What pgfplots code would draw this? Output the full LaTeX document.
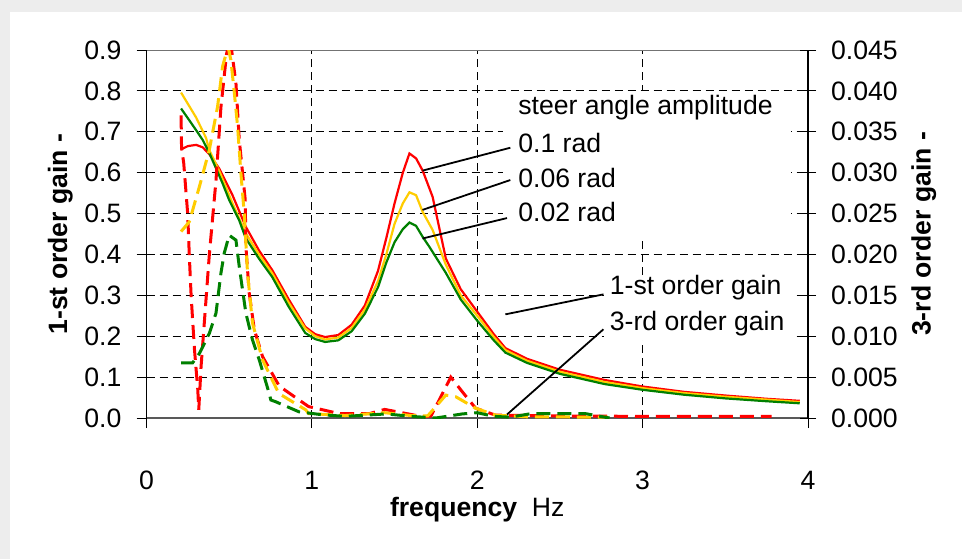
\documentclass[border=0pt]{standalone}
\usepackage{fontspec}
\setmainfont{Liberation Sans}
\usepackage{pgfplots}
\pgfplotsset{compat=1.18}

\definecolor{cRed}{RGB}{255,0,0}
\definecolor{cYel}{RGB}{255,204,0}
\definecolor{cGrn}{RGB}{0,128,0}
\newcommand\cf{\fontsize{13.3}{15}\selectfont}

% first-order gain (left axis)
\pgfplotstableread{
x y
0.209 0.657
0.25 0.665
0.30 0.668
0.34 0.662
0.38 0.645
0.44 0.610
0.52 0.545
0.60 0.468
0.68 0.410
0.76 0.362
0.86 0.290
0.96 0.223
1.02 0.205
1.08 0.198
1.16 0.203
1.24 0.228
1.32 0.275
1.40 0.360
1.45 0.440
1.50 0.525
1.55 0.600
1.59 0.647
1.63 0.635
1.67 0.605
1.73 0.541
1.81 0.390
1.90 0.315
2.00 0.260
2.10 0.205
2.17 0.171
2.30 0.145
2.50 0.118
2.77 0.093
3.00 0.077
3.25 0.064
3.50 0.055
3.75 0.047
3.95 0.042
}\firstRed
\pgfplotstableread{
x y
0.209 0.796
0.30 0.735
0.36 0.685
0.38 0.655
0.44 0.604
0.52 0.525
0.60 0.452
0.68 0.400
0.76 0.354
0.86 0.282
0.96 0.219
1.02 0.200
1.08 0.192
1.16 0.197
1.24 0.220
1.32 0.265
1.40 0.335
1.45 0.400
1.50 0.475
1.55 0.525
1.59 0.552
1.63 0.545
1.67 0.504
1.73 0.460
1.81 0.375
1.90 0.300
2.00 0.250
2.10 0.198
2.17 0.166
2.30 0.140
2.50 0.113
2.77 0.088
3.00 0.073
3.25 0.061
3.50 0.052
3.75 0.045
3.95 0.039
}\firstYel
\pgfplotstableread{
x y
0.209 0.757
0.259 0.728
0.30 0.704
0.34 0.680
0.38 0.648
0.42 0.611
0.46 0.574
0.50 0.533
0.56 0.484
0.60 0.440
0.68 0.390
0.76 0.345
0.86 0.272
0.96 0.208
1.02 0.193
1.08 0.186
1.16 0.190
1.24 0.212
1.32 0.255
1.40 0.320
1.45 0.380
1.50 0.430
1.55 0.462
1.59 0.478
1.63 0.470
1.67 0.443
1.71 0.419
1.81 0.355
1.90 0.290
2.00 0.238
2.10 0.190
2.17 0.160
2.30 0.135
2.50 0.108
2.77 0.083
3.00 0.069
3.25 0.057
3.50 0.048
3.75 0.041
3.95 0.036
}\firstGrn

% third-order gain (right axis)
\pgfplotstableread{
x y
0.209 0.0370
0.212 0.0330
0.225 0.0312
0.249 0.0250
0.259 0.0198
0.270 0.0149
0.290 0.0084
0.310 0.0035
0.316 0.0010
0.330 0.0063
0.380 0.0200
0.420 0.0290
0.450 0.0380
0.484 0.0445
0.505 0.0465
0.541 0.0409
0.561 0.0340
0.597 0.0267
0.601 0.0210
0.621 0.0153
0.652 0.0108
0.702 0.0075
0.803 0.0039
0.923 0.0022
0.980 0.0014
1.163 0.00055
1.35 0.00055
1.44 0.00105
1.57 0.00055
1.67 0.00015
1.72 0.00025
1.77 0.0022
1.84 0.0050
1.91 0.0032
1.99 0.0012
2.11 0.00035
2.50 0.00025
3.00 0.0002
3.78 0.0002
}\thirdRed
\pgfplotstableread{
x y
0.209 0.0228
0.259 0.0240
0.320 0.0283
0.380 0.0328
0.430 0.0381
0.460 0.0430
0.485 0.0448
0.495 0.0452
0.510 0.0438
0.530 0.0400
0.551 0.0356
0.571 0.0299
0.591 0.0250
0.611 0.0177
0.641 0.0116
0.702 0.0071
0.800 0.0030
0.963 0.0010
0.98 0.00055
1.20 0.0003
1.44 0.00065
1.60 0.0003
1.70 0.00025
1.81 0.0028
1.87 0.0026
1.99 0.0012
2.11 0.00035
2.30 0.00015
2.79 0.0001
}\thirdYel
\pgfplotstableread{
x y
0.209 0.00675
0.279 0.00675
0.320 0.0079
0.380 0.01035
0.420 0.0128
0.450 0.0177
0.470 0.02015
0.500 0.02235
0.541 0.02175
0.561 0.0185
0.581 0.01565
0.601 0.0128
0.641 0.00955
0.682 0.0071
0.742 0.0030
0.752 0.0022
0.780 0.0020
0.923 0.00075
1.063 0.0004
1.20 0.0002
1.45 0.0005
1.60 0.0002
1.75 0.0
1.91 0.0005
2.00 0.00065
2.10 0.0002
2.20 0.0001
2.33 0.00055
2.65 0.00055
2.80 0.0
}\thirdGrn

\begin{document}
\begin{tikzpicture}
% page frame with a light grey margin on top and left
\useasboundingbox (-73.25pt,-70.5pt) rectangle (407.75pt,209pt);
\fill[gray!14] (-73.25pt,-70.5pt) rectangle (407.75pt,209pt);
\fill[white] (-68.25pt,-70.5pt) rectangle (407.75pt,203pt);

\pgfplotsset{
  chart/.style={
    at={(0,0)}, anchor=south west,
    scale only axis, width=330.75pt, height=184pt,
    xmin=0, xmax=4,
    /pgf/number format/assume math mode=true,
    tick label style={font=\cf},
    label style={font=\cf},
  },
}

\begin{axis}[chart,
  ymin=0, ymax=0.9,
  axis x line*=bottom, axis y line*=left,
  x axis line style={line width=1.3pt, black!65},
  y axis line style={line width=0.8pt, black},
  xtick={0,1,2,3,4}, ytick={0,0.1,...,0.9},
  tick align=outside, major tick length=5pt,
  tick style={black, line width=0.5pt},
  xticklabel style={yshift=-18pt},
  yticklabel style={/pgf/number format/fixed, /pgf/number format/fixed zerofill,
    /pgf/number format/precision=1, xshift=-4pt},
  grid=major,
  major grid style={black, dash pattern=on 4pt off 2.5pt, line width=0.5pt},
  xlabel={\textbf{frequency}\ \ Hz},
  xlabel style={yshift=3pt},
  ylabel={\textbf{1-st order gain -}},
  ylabel style={yshift=-1pt},
]
\addplot[cRed, line width=1.1pt] table {\firstRed};
\addplot[cYel, line width=1.1pt] table {\firstYel};
\addplot[cGrn, line width=1.1pt] table {\firstGrn};

% top border of the plot area
\draw[black!55, line width=1.3pt] (rel axis cs:0,1) -- (rel axis cs:1,1);

% white text boxes of the annotations
\fill[white] (axis cs:2.155,0.4425) rectangle (axis cs:3.896,0.800);
\fill[white] (axis cs:2.766,0.191) rectangle (axis cs:3.903,0.340);

% annotations
\begin{scope}[every node/.style={font=\cf, anchor=west, inner sep=0pt}]
\node at (axis cs:2.246,0.758) {steer angle amplitude};
\node at (axis cs:2.246,0.672) {0.1 rad};
\node at (axis cs:2.246,0.587) {0.06 rad};
\node at (axis cs:2.246,0.504) {0.02 rad};
\node at (axis cs:2.80,0.318) {1-st order gain};
\node at (axis cs:2.80,0.230) {3-rd order gain};
\end{scope}
\draw[black, line width=0.9pt] (axis cs:1.669,0.605) -- (axis cs:2.20,0.661);
\draw[black, line width=0.9pt] (axis cs:1.669,0.509) -- (axis cs:2.20,0.582);
\draw[black, line width=0.9pt] (axis cs:1.669,0.439) -- (axis cs:2.18,0.489);
\draw[black, line width=0.9pt] (axis cs:2.17,0.2535) -- (axis cs:2.763,0.3024);
\draw[black, line width=0.9pt] (axis cs:2.17,0.005) -- (axis cs:2.763,0.217);
\end{axis}

\begin{axis}[chart,
  ymin=0, ymax=0.045,
  axis x line=none, axis y line*=right,
  y axis line style={line width=0.6pt, black},
  ytick={0,0.005,...,0.045},
  scaled y ticks=false,
  tick align=center, major tick length=8pt,
  tick style={black, line width=0.5pt},
  yticklabel style={/pgf/number format/fixed, /pgf/number format/fixed zerofill,
    /pgf/number format/precision=3, xshift=4pt},
  ylabel={\textbf{3-rd order gain -}},
  ylabel style={yshift=0pt},
]
\addplot[cRed, line width=1.5pt, dash pattern=on 7pt off 3.5pt] table {\thirdRed};
\addplot[cYel, line width=1.5pt, dash pattern=on 7pt off 3.5pt] table {\thirdYel};
\addplot[cGrn, line width=1.5pt, dash pattern=on 7pt off 3.5pt] table {\thirdGrn};
\end{axis}
\end{tikzpicture}
\end{document}
